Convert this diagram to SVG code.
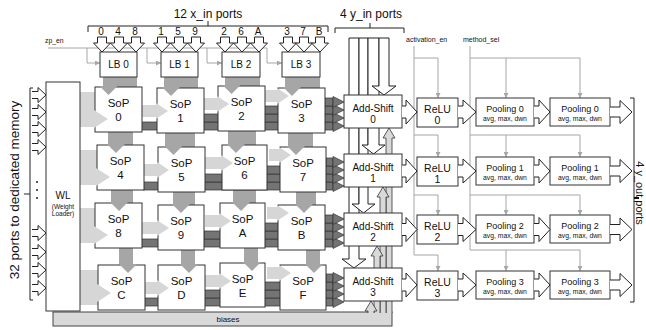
<svg xmlns="http://www.w3.org/2000/svg" width="646" height="330" viewBox="0 0 646 330">
<defs>
<style>
.box{fill:#fff;stroke:#333;stroke-width:1}
.t{font-family:"Liberation Sans",Arial,sans-serif;fill:#111;text-anchor:middle}
.tl{font-family:"Liberation Sans",Arial,sans-serif;fill:#111}
.gl{stroke:#a6a6a6;stroke-width:1;fill:none}
.hol{fill:#fff;stroke:#222;stroke-width:1}
.vg{fill:#a6a6a6}
.lg{fill:#d6d6d6}
.dk{fill:#747474;stroke:#333;stroke-width:0.7}
.up{fill:#d9d9d9;stroke:#333;stroke-width:0.8}
.br{fill:none;stroke:#222;stroke-width:1}
</style>
<marker id="ga" viewBox="0 0 6 6" refX="6" refY="3" markerWidth="5" markerHeight="5" orient="auto"><path d="M0,0 L6,3 L0,6 z" fill="#a6a6a6"/></marker>
</defs>
<rect width="646" height="330" fill="#fff"/>

<!-- control lines -->
<g id="control-lines">
<path class="gl" d="M48,48 H267"/>
<path class="gl" d="M87,48 V63 H100" marker-end="url(#ga)"/>
<path class="gl" d="M147,48 V63 H161" marker-end="url(#ga)"/>
<path class="gl" d="M207,48 V63 H222" marker-end="url(#ga)"/>
<path class="gl" d="M267,48 V63 H282" marker-end="url(#ga)"/>
<path class="gl" d="M414,46 V255"/>
<path class="gl" d="M414,58 H438 V98" marker-end="url(#ga)"/>
<path class="gl" d="M414,135 H438 V157" marker-end="url(#ga)"/>
<path class="gl" d="M414,195 H438 V215" marker-end="url(#ga)"/>
<path class="gl" d="M414,255 H438 V271" marker-end="url(#ga)"/>
<path class="gl" d="M470,46 V250"/>
<path class="gl" d="M470,58 H580 V98" marker-end="url(#ga)"/>
<path class="gl" d="M506,58 V98" marker-end="url(#ga)"/>
<path class="gl" d="M470,135 H580 V157" marker-end="url(#ga)"/>
<path class="gl" d="M506,135 V157" marker-end="url(#ga)"/>
<path class="gl" d="M470,195 H580 V215" marker-end="url(#ga)"/>
<path class="gl" d="M506,195 V215" marker-end="url(#ga)"/>
<path class="gl" d="M470,250 H580 V271" marker-end="url(#ga)"/>
<path class="gl" d="M506,250 V271" marker-end="url(#ga)"/>
</g>

<!-- data connectors behind boxes -->
<g id="connectors">
<rect class="vg" x="103" y="77" width="34" height="10"/>
<rect class="vg" x="108" y="132" width="25" height="13"/>
<rect class="vg" x="111" y="190" width="22" height="13"/>
<rect class="vg" x="119" y="248" width="14" height="17"/>
<rect class="vg" x="164" y="77" width="34" height="11"/>
<rect class="vg" x="165" y="133" width="30" height="14"/>
<rect class="vg" x="173" y="192" width="22" height="13"/>
<rect class="vg" x="181" y="250" width="14" height="15"/>
<rect class="vg" x="225" y="77" width="35" height="9"/>
<rect class="vg" x="228" y="131" width="28" height="14"/>
<rect class="vg" x="233" y="190" width="23" height="13"/>
<rect class="vg" x="244" y="248" width="14" height="15"/>
<rect class="vg" x="285" y="77" width="35" height="11"/>
<rect class="vg" x="288" y="133" width="25" height="14"/>
<rect class="vg" x="296" y="192" width="20" height="13"/>
<rect class="vg" x="306" y="250" width="14" height="15"/>
<rect class="lg" x="80" y="92" width="15" height="35"/>
<rect class="lg" x="142" y="105" width="15" height="12"/>
<rect class="lg" x="204" y="98" width="14" height="12"/>
<rect class="lg" x="265" y="90" width="13" height="12"/>
<rect class="lg" x="80" y="150" width="17" height="35"/>
<rect class="lg" x="144" y="164" width="14" height="12"/>
<rect class="lg" x="205" y="157" width="17" height="12"/>
<rect class="lg" x="269" y="149" width="11" height="12"/>
<rect class="lg" x="80" y="208" width="15" height="35"/>
<rect class="lg" x="142" y="222" width="16" height="12"/>
<rect class="lg" x="205" y="215" width="15" height="12"/>
<rect class="lg" x="267" y="207" width="11" height="12"/>
<rect class="lg" x="80" y="270" width="18" height="35"/>
<rect class="lg" x="145" y="282" width="13" height="12"/>
<rect class="lg" x="205" y="275" width="15" height="12"/>
<rect class="lg" x="267" y="267" width="13" height="12"/>
<rect class="dk" x="141" y="122" width="192" height="8"/>
<rect class="dk" x="203" y="114" width="130" height="8"/>
<rect class="dk" x="264" y="106" width="69" height="8"/>
<rect class="dk" x="324" y="98" width="9" height="8"/>
<rect class="dk" x="143" y="182" width="190" height="8"/>
<rect class="dk" x="204" y="174" width="129" height="8"/>
<rect class="dk" x="266" y="166" width="67" height="8"/>
<rect class="dk" x="326" y="158" width="7" height="8"/>
<rect class="dk" x="141" y="239" width="192" height="8"/>
<rect class="dk" x="204" y="231" width="129" height="8"/>
<rect class="dk" x="264" y="223" width="69" height="8"/>
<rect class="dk" x="324" y="215" width="9" height="8"/>
<rect class="dk" x="144" y="298" width="189" height="8"/>
<rect class="dk" x="204" y="290" width="129" height="8"/>
<rect class="dk" x="264" y="282" width="69" height="8"/>
<rect class="dk" x="326" y="274" width="7" height="8"/>
<path class="hol" d="M349,38 H359 V259 H366 L354,268 L342,259 H349 Z"/>
<path class="hol" d="M359,38 H368 V204 H375 L363.5,213 L352,204 H359 Z"/>
<path class="hol" d="M368,38 H379 V145 H385 L373.5,154 L362,145 H368 Z"/>
<path class="hol" d="M379,38 H389 V86 H396 L384,95 L372,86 H379 Z"/>
</g>

<g id="biases">
<rect x="53" y="312" width="339" height="14" fill="#d9d9d9" stroke="#444" stroke-width="1"/>
<text class="t" x="228" y="322" font-size="8">biases</text>
</g>

<g id="bias-arrows">
<path class="up" d="M386,313 V138 H383 L389,128 L395,138 H392 V313"/>
<path class="up" d="M380,313 V197 H377 L383,187 L389,197 H386 V313"/>
<path class="up" d="M374,313 V256 H371 L377,246 L383,256 H380 V313"/>
<path class="up" d="M368,313 V311 H365 L371,301 L377,311 H374 V313"/>
</g>

<g id="WL"><rect class="box" x="46" y="82" width="34" height="229"/>
<text class="t" x="63" y="199" font-size="10">WL</text>
<text class="t" x="63" y="209" font-size="6.5">(Weight</text>
<text class="t" x="63" y="216" font-size="6.5">Loader)</text></g>

<g id="LB0"><rect class="box" x="100" y="52" width="37" height="25"/><text class="t" x="118.5" y="68" font-size="10">LB 0</text></g>
<g id="LB1"><rect class="box" x="161" y="52" width="37" height="25"/><text class="t" x="179.5" y="68" font-size="10">LB 1</text></g>
<g id="LB2"><rect class="box" x="222" y="52" width="38" height="25"/><text class="t" x="241" y="68" font-size="10">LB 2</text></g>
<g id="LB3"><rect class="box" x="282" y="52" width="38" height="25"/><text class="t" x="301" y="68" font-size="10">LB 3</text></g>

<g id="SoP0"><rect class="box" x="95" y="87" width="47" height="45"/><text class="t" x="118.5" y="107" font-size="11.5">SoP</text><text class="t" x="118.5" y="121" font-size="11.5">0</text></g>
<g id="SoP1"><rect class="box" x="157" y="88" width="47" height="45"/><text class="t" x="180.5" y="108" font-size="11.5">SoP</text><text class="t" x="180.5" y="122" font-size="11.5">1</text></g>
<g id="SoP2"><rect class="box" x="218" y="86" width="47" height="45"/><text class="t" x="241.5" y="106" font-size="11.5">SoP</text><text class="t" x="241.5" y="120" font-size="11.5">2</text></g>
<g id="SoP3"><rect class="box" x="278" y="88" width="47" height="45"/><text class="t" x="301.5" y="108" font-size="11.5">SoP</text><text class="t" x="301.5" y="122" font-size="11.5">3</text></g>
<g id="SoP4"><rect class="box" x="97" y="145" width="47" height="45"/><text class="t" x="120.5" y="165" font-size="11.5">SoP</text><text class="t" x="120.5" y="179" font-size="11.5">4</text></g>
<g id="SoP5"><rect class="box" x="158" y="147" width="47" height="45"/><text class="t" x="181.5" y="167" font-size="11.5">SoP</text><text class="t" x="181.5" y="181" font-size="11.5">5</text></g>
<g id="SoP6"><rect class="box" x="222" y="145" width="45" height="45"/><text class="t" x="244.5" y="165" font-size="11.5">SoP</text><text class="t" x="244.5" y="179" font-size="11.5">6</text></g>
<g id="SoP7"><rect class="box" x="280" y="147" width="46" height="45"/><text class="t" x="303" y="167" font-size="11.5">SoP</text><text class="t" x="303" y="181" font-size="11.5">7</text></g>
<g id="SoP8"><rect class="box" x="95" y="203" width="47" height="45"/><text class="t" x="118.5" y="223" font-size="11.5">SoP</text><text class="t" x="118.5" y="237" font-size="11.5">8</text></g>
<g id="SoP9"><rect class="box" x="158" y="205" width="46" height="45"/><text class="t" x="181" y="225" font-size="11.5">SoP</text><text class="t" x="181" y="239" font-size="11.5">9</text></g>
<g id="SoPA"><rect class="box" x="220" y="203" width="45" height="45"/><text class="t" x="242.5" y="223" font-size="11.5">SoP</text><text class="t" x="242.5" y="237" font-size="11.5">A</text></g>
<g id="SoPB"><rect class="box" x="278" y="205" width="47" height="45"/><text class="t" x="301.5" y="225" font-size="11.5">SoP</text><text class="t" x="301.5" y="239" font-size="11.5">B</text></g>
<g id="SoPC"><rect class="box" x="98" y="265" width="47" height="45"/><text class="t" x="121.5" y="285" font-size="11.5">SoP</text><text class="t" x="121.5" y="299" font-size="11.5">C</text></g>
<g id="SoPD"><rect class="box" x="158" y="265" width="47" height="45"/><text class="t" x="181.5" y="285" font-size="11.5">SoP</text><text class="t" x="181.5" y="299" font-size="11.5">D</text></g>
<g id="SoPE"><rect class="box" x="220" y="263" width="45" height="44"/><text class="t" x="242.5" y="283" font-size="11.5">SoP</text><text class="t" x="242.5" y="297" font-size="11.5">E</text></g>
<g id="SoPF"><rect class="box" x="280" y="265" width="46" height="45"/><text class="t" x="303" y="285" font-size="11.5">SoP</text><text class="t" x="303" y="299" font-size="11.5">F</text></g>

<g id="AddShift0"><rect class="box" x="344" y="95" width="58" height="33"/><text class="t" x="373" y="112" font-size="10">Add-Shift</text><text class="t" x="373" y="123" font-size="10">0</text></g>
<g id="AddShift1"><rect class="box" x="344" y="154" width="58" height="33"/><text class="t" x="373" y="171" font-size="10">Add-Shift</text><text class="t" x="373" y="182" font-size="10">1</text></g>
<g id="AddShift2"><rect class="box" x="344" y="213" width="58" height="33"/><text class="t" x="373" y="230" font-size="10">Add-Shift</text><text class="t" x="373" y="241" font-size="10">2</text></g>
<g id="AddShift3"><rect class="box" x="344" y="268" width="58" height="33"/><text class="t" x="373" y="285" font-size="10">Add-Shift</text><text class="t" x="373" y="296" font-size="10">3</text></g>

<g id="ReLU0"><rect class="box" x="417" y="98" width="41" height="29"/><text class="t" x="437.5" y="113" font-size="10.5">ReLU</text><text class="t" x="437.5" y="124" font-size="10.5">0</text></g>
<g id="ReLU1"><rect class="box" x="417" y="157" width="41" height="29"/><text class="t" x="437.5" y="172" font-size="10.5">ReLU</text><text class="t" x="437.5" y="183" font-size="10.5">1</text></g>
<g id="ReLU2"><rect class="box" x="417" y="215" width="41" height="29"/><text class="t" x="437.5" y="230" font-size="10.5">ReLU</text><text class="t" x="437.5" y="241" font-size="10.5">2</text></g>
<g id="ReLU3"><rect class="box" x="417" y="271" width="41" height="29"/><text class="t" x="437.5" y="286" font-size="10.5">ReLU</text><text class="t" x="437.5" y="297" font-size="10.5">3</text></g>

<g id="Pooling0a"><rect class="box" x="476" y="98" width="58" height="28"/><text class="t" x="505" y="112" font-size="9">Pooling 0</text><text class="t" x="505" y="121" font-size="6.8">avg, max, dwn</text></g>
<g id="Pooling0b"><rect class="box" x="550" y="98" width="60" height="28"/><text class="t" x="580" y="112" font-size="9">Pooling 0</text><text class="t" x="580" y="121" font-size="6.8">avg, max, dwn</text></g>
<g id="Pooling1a"><rect class="box" x="476" y="157" width="58" height="28"/><text class="t" x="505" y="171" font-size="9">Pooling 1</text><text class="t" x="505" y="180" font-size="6.8">avg, max, dwn</text></g>
<g id="Pooling1b"><rect class="box" x="550" y="157" width="60" height="28"/><text class="t" x="580" y="171" font-size="9">Pooling 1</text><text class="t" x="580" y="180" font-size="6.8">avg, max, dwn</text></g>
<g id="Pooling2a"><rect class="box" x="476" y="215" width="58" height="28"/><text class="t" x="505" y="229" font-size="9">Pooling 2</text><text class="t" x="505" y="238" font-size="6.8">avg, max, dwn</text></g>
<g id="Pooling2b"><rect class="box" x="550" y="215" width="60" height="28"/><text class="t" x="580" y="229" font-size="9">Pooling 2</text><text class="t" x="580" y="238" font-size="6.8">avg, max, dwn</text></g>
<g id="Pooling3a"><rect class="box" x="476" y="271" width="58" height="28"/><text class="t" x="505" y="285" font-size="9">Pooling 3</text><text class="t" x="505" y="294" font-size="6.8">avg, max, dwn</text></g>
<g id="Pooling3b"><rect class="box" x="550" y="271" width="60" height="28"/><text class="t" x="580" y="285" font-size="9">Pooling 3</text><text class="t" x="580" y="294" font-size="6.8">avg, max, dwn</text></g>

<g id="connector-heads">
<polygon class="vg" points="99.5,86 117.5,86 108.5,95"/>
<polygon class="vg" points="107,144 125,144 116,153"/>
<polygon class="vg" points="110,202 128,202 119,211"/>
<polygon class="vg" points="119,264 137,264 128,273"/>
<polygon class="vg" points="162,87 180,87 171,96"/>
<polygon class="vg" points="164.5,146 182.5,146 173.5,155"/>
<polygon class="vg" points="172,204 190,204 181,213"/>
<polygon class="vg" points="180,264 198,264 189,273"/>
<polygon class="vg" points="222.5,85 240.5,85 231.5,94"/>
<polygon class="vg" points="227,144 245,144 236,153"/>
<polygon class="vg" points="232,202 250,202 241,211"/>
<polygon class="vg" points="243,262 261,262 252,271"/>
<polygon class="vg" points="283,87 301,87 292,96"/>
<polygon class="vg" points="287,146 305,146 296,155"/>
<polygon class="vg" points="295,204 313,204 304,213"/>
<polygon class="vg" points="305,264 323,264 314,273"/>
<polygon class="lg" points="94,110 108,119 94,128"/>
<polygon class="lg" points="156,103 168,111 156,119"/>
<polygon class="lg" points="217,96 229,104 217,112"/>
<polygon class="lg" points="277,88 289,96 277,104"/>
<polygon class="lg" points="96,168 110,177 96,186"/>
<polygon class="lg" points="157,162 169,170 157,178"/>
<polygon class="lg" points="221,155 233,163 221,171"/>
<polygon class="lg" points="279,147 291,155 279,163"/>
<polygon class="lg" points="94,226 108,235 94,244"/>
<polygon class="lg" points="157,220 169,228 157,236"/>
<polygon class="lg" points="219,213 231,221 219,229"/>
<polygon class="lg" points="277,205 289,213 277,221"/>
<polygon class="lg" points="97,284 111,293 97,302"/>
<polygon class="lg" points="157,280 169,288 157,296"/>
<polygon class="lg" points="219,273 231,281 219,289"/>
<polygon class="lg" points="279,265 291,273 279,281"/>
<polygon class="dk" points="333,120.5 344,126 333,131.5"/>
<polygon class="dk" points="333,112.5 344,118 333,123.5"/>
<polygon class="dk" points="333,104.5 344,110 333,115.5"/>
<polygon class="dk" points="333,96.5 344,102 333,107.5"/>
<polygon class="dk" points="333,180.5 344,186 333,191.5"/>
<polygon class="dk" points="333,172.5 344,178 333,183.5"/>
<polygon class="dk" points="333,164.5 344,170 333,175.5"/>
<polygon class="dk" points="333,156.5 344,162 333,167.5"/>
<polygon class="dk" points="333,237.5 344,243 333,248.5"/>
<polygon class="dk" points="333,229.5 344,235 333,240.5"/>
<polygon class="dk" points="333,221.5 344,227 333,232.5"/>
<polygon class="dk" points="333,213.5 344,219 333,224.5"/>
<polygon class="dk" points="333,296.5 344,302 333,307.5"/>
<polygon class="dk" points="333,288.5 344,294 333,299.5"/>
<polygon class="dk" points="333,280.5 344,286 333,291.5"/>
<polygon class="dk" points="333,272.5 344,278 333,283.5"/>
</g>

<g id="port-arrows">
<path class="hol" d="M97.5,37 V43 H93.5 L102,52 L110.5,43 H106.5 V37 Z"/>
<path class="hol" d="M114.5,37 V43 H110.5 L119,52 L127.5,43 H123.5 V37 Z"/>
<path class="hol" d="M131.5,37 V43 H127.5 L136,52 L144.5,43 H140.5 V37 Z"/>
<path class="hol" d="M157.5,37 V43 H153.5 L162,52 L170.5,43 H166.5 V37 Z"/>
<path class="hol" d="M174.5,37 V43 H170.5 L179,52 L187.5,43 H183.5 V37 Z"/>
<path class="hol" d="M191.5,37 V43 H187.5 L196,52 L204.5,43 H200.5 V37 Z"/>
<path class="hol" d="M220.5,37 V43 H216.5 L225,52 L233.5,43 H229.5 V37 Z"/>
<path class="hol" d="M237.5,37 V43 H233.5 L242,52 L250.5,43 H246.5 V37 Z"/>
<path class="hol" d="M254.5,37 V43 H250.5 L259,52 L267.5,43 H263.5 V37 Z"/>
<path class="hol" d="M283.5,37 V43 H279.5 L288,52 L296.5,43 H292.5 V37 Z"/>
<path class="hol" d="M299.5,37 V43 H295.5 L304,52 L312.5,43 H308.5 V37 Z"/>
<path class="hol" d="M315.5,37 V43 H311.5 L320,52 L328.5,43 H324.5 V37 Z"/>
<path class="hol" d="M32,91.5 H38 V87.5 L46,95 L38,102.5 V98.5 H32"/>
<path class="hol" d="M32,108.5 H38 V104.5 L46,112 L38,119.5 V115.5 H32"/>
<path class="hol" d="M32,125.5 H38 V121.5 L46,129 L38,136.5 V132.5 H32"/>
<path class="hol" d="M32,143.5 H38 V139.5 L46,147 L38,154.5 V150.5 H32"/>
<path class="hol" d="M32,229.5 H38 V225.5 L46,233 L38,240.5 V236.5 H32"/>
<path class="hol" d="M32,248.5 H38 V244.5 L46,252 L38,259.5 V255.5 H32"/>
<path class="hol" d="M32,266.5 H38 V262.5 L46,270 L38,277.5 V273.5 H32"/>
<path class="hol" d="M32,284.5 H38 V280.5 L46,288 L38,295.5 V291.5 H32"/>
<path class="hol" d="M402,106 H406 V100 L417,112 L406,124 V118 H402"/>
<path class="hol" d="M402,165 H406 V159 L417,171 L406,183 V177 H402"/>
<path class="hol" d="M402,223.5 H406 V217.5 L417,229.5 L406,241.5 V235.5 H402"/>
<path class="hol" d="M402,279 H406 V273 L417,285 L406,297 V291 H402"/>
<path class="hol" d="M458,106 H463 V100 L476,112 L463,124 V118 H458"/>
<path class="hol" d="M458,165 H463 V159 L476,171 L463,183 V177 H458"/>
<path class="hol" d="M458,223.5 H463 V217.5 L476,229.5 L463,241.5 V235.5 H458"/>
<path class="hol" d="M458,279 H463 V273 L476,285 L463,297 V291 H458"/>
<path class="hol" d="M534,106 H539 V100 L550,112 L539,124 V118 H534"/>
<path class="hol" d="M534,165 H539 V159 L550,171 L539,183 V177 H534"/>
<path class="hol" d="M534,223.5 H539 V217.5 L550,229.5 L539,241.5 V235.5 H534"/>
<path class="hol" d="M534,279 H539 V273 L550,285 L539,297 V291 H534"/>
<path class="hol" d="M610,107 H620 V100.5 L632,112 L620,123.5 V117 H610"/>
<path class="hol" d="M610,166 H620 V159.5 L632,171 L620,182.5 V176 H610"/>
<path class="hol" d="M610,224.5 H620 V218 L632,229.5 L620,241 V234.5 H610"/>
<path class="hol" d="M610,280 H620 V273.5 L632,285 L620,296.5 V290 H610"/>
</g>

<g id="labels">
<path class="br" d="M88,32 V26 H328 V32 M208,26 V21"/>
<path class="br" d="M335,33 V28 H404 V33 M370,28 V23"/>
<path class="br" d="M33,88 H30 V300 H33 M30,194 H24"/>
<path class="br" d="M630,98 H634 V302 H630"/>
<path d="M634,198 H639" stroke="#111" stroke-width="2"/>
<circle cx="37" cy="182" r="1" fill="#222"/>
<circle cx="37" cy="190" r="1" fill="#222"/>
<circle cx="37" cy="198" r="1" fill="#222"/>
<text class="t" x="208" y="18" font-size="12">12 x_in ports</text>
<text class="t" x="371" y="18" font-size="12">4 y_in ports</text>
<text class="t" x="19" y="190" font-size="13.5" transform="rotate(-90 19 190)">32 ports to dedicated memory</text>
<text class="t" x="636" y="193" font-size="11" transform="rotate(90 636 193)">4 y_out ports</text>
<text class="tl" x="45" y="43" font-size="6.8">zp_en</text>
<text class="tl" x="406" y="42" font-size="7">activation_en</text>
<text class="tl" x="463" y="42" font-size="7">method_sel</text>
<text class="t" x="101" y="35" font-size="10">0</text>
<text class="t" x="118" y="35" font-size="10">4</text>
<text class="t" x="135" y="35" font-size="10">8</text>
<text class="t" x="161" y="35" font-size="10">1</text>
<text class="t" x="178" y="35" font-size="10">5</text>
<text class="t" x="195" y="35" font-size="10">9</text>
<text class="t" x="224" y="35" font-size="10">2</text>
<text class="t" x="241" y="35" font-size="10">6</text>
<text class="t" x="258" y="35" font-size="10">A</text>
<text class="t" x="287" y="35" font-size="10">3</text>
<text class="t" x="303" y="35" font-size="10">7</text>
<text class="t" x="319" y="35" font-size="10">B</text>
</g>
</svg>
